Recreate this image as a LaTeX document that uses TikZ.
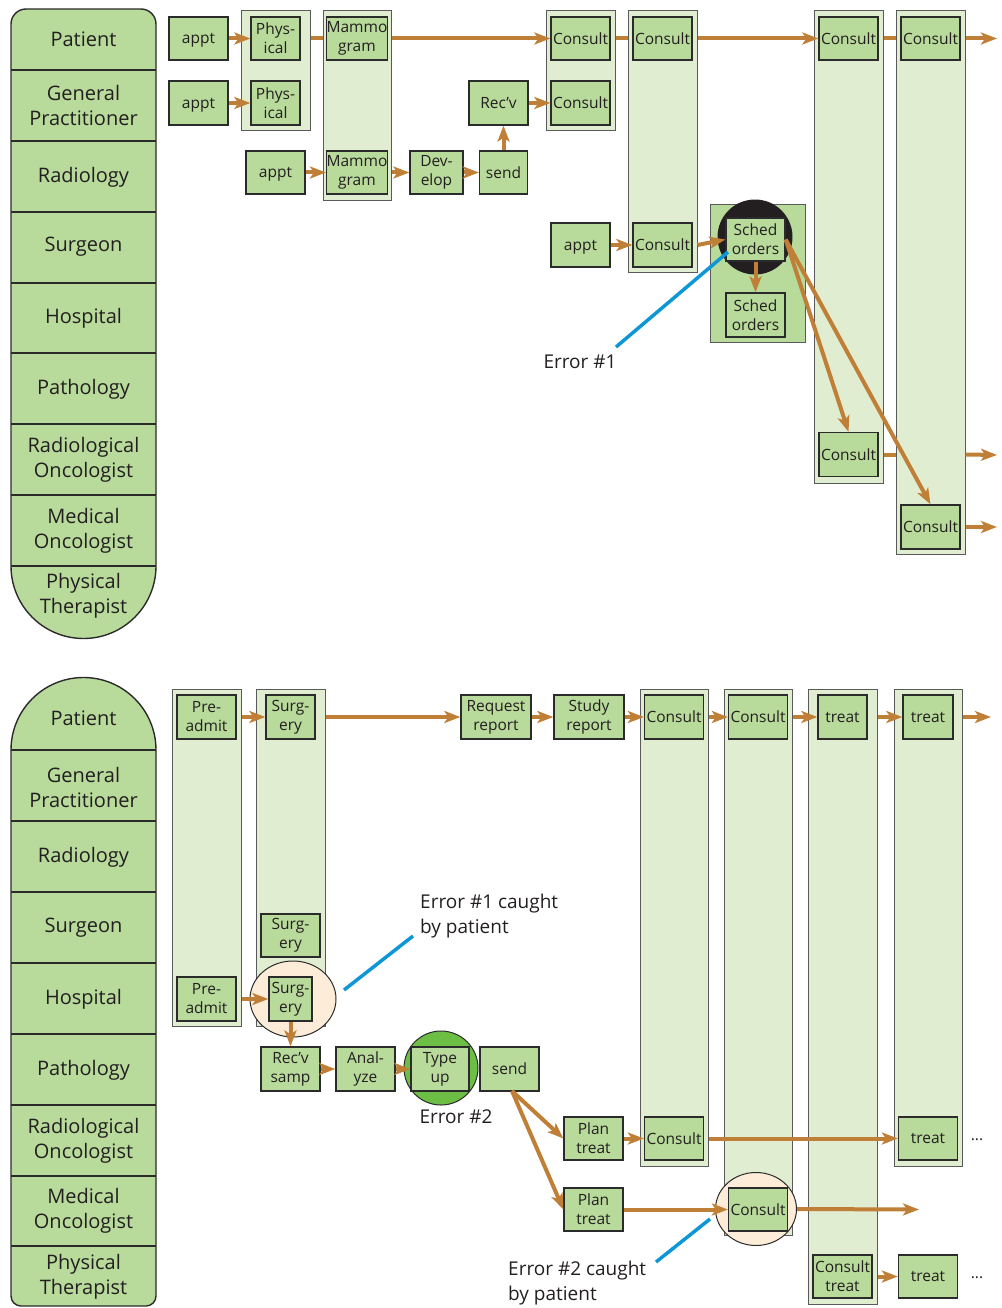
\documentclass[tikz,border=0pt]{standalone}
\usepackage{fontspec}
\setmainfont{Open Sans}
\usetikzlibrary{arrows.meta,shapes.geometric}

\definecolor{boxfill}{HTML}{B8DA9B}
\definecolor{grpfill}{HTML}{E0EDD0}
\definecolor{grpline}{HTML}{5A5A5A}
\definecolor{boxline}{HTML}{2B2B2B}
\definecolor{ink}{HTML}{231F20}
\definecolor{flowc}{HTML}{C07F37}
\definecolor{calloutblue}{HTML}{0E97D6}
\definecolor{cream}{HTML}{FDEDD8}
\definecolor{typegreen}{HTML}{6DBE45}

\newcommand\bxfont{\fontsize{15.5}{19}\selectfont}
\newcommand\lnfont{\fontsize{20}{25}\selectfont}
\newcommand\ntfont{\fontsize{19}{25}\selectfont}

\begin{document}
\begin{tikzpicture}[x=1pt,y=-1pt,
  box/.style={draw=boxline, fill=boxfill, line width=1.3pt, minimum width=59pt,
    minimum height=44pt, inner sep=0pt, align=center, font=\bxfont, text=ink},
  lowtext/.style={text depth=0pt},
  grp/.style={draw=grpline, fill=grpfill, line width=1pt, inner sep=0pt},
  lane/.style={draw=boxline, fill=boxfill, line width=1.4pt},
  laneline/.style={draw=boxline, line width=1.4pt},
  lanetxt/.style={font=\lnfont, align=center, text=ink, inner sep=0pt},
  note/.style={font=\ntfont, align=left, text=ink, inner sep=0pt},
  flow/.style={draw=flowc, line width=4pt, -{Stealth[length=16pt,width=12pt,inset=4pt]}},
  link/.style={draw=flowc, line width=4pt},
  callout/.style={draw=calloutblue, line width=3.5pt},
  ring/.style={draw=boxline, line width=1pt, inner sep=0pt}]

\useasboundingbox (0,0) rectangle (1001,1308);

% ---------- upper chart: swim-lane header column ----------
\draw[lane] (11,566) -- (11,24) arc[start angle=180, end angle=270, radius=15]
  -- (141,9) arc[start angle=270, end angle=360, radius=15]
  -- (156,566) arc[start angle=0, end angle=180, radius=72.5] -- cycle;
\foreach \yy in {70,141,212,283,353,424,495,566}
  \draw[laneline] (11,\yy) -- (156,\yy);
\node[lanetxt] (uPat) at (83.5,39) {Patient};
\node[lanetxt] (uGP) at (83.5,106) {General\\Practitioner};
\node[lanetxt] (uRad) at (83.5,177) {Radiology};
\node[lanetxt] (uSur) at (83.5,247) {Surgeon};
\node[lanetxt] (uHos) at (83.5,318) {Hospital};
\node[lanetxt] (uPath) at (83.5,389) {Pathology};
\node[lanetxt] (uRO) at (83.5,460) {Radiological\\Oncologist};
\node[lanetxt] (uMO) at (83.5,531) {Medical\\Oncologist};
\node[lanetxt] (uPT) at (83.5,596) {Physical\\Therapist};

% ---------- upper chart: visit groups ----------
\node[grp, minimum width=69pt, minimum height=120pt] (gPhys) at (275.5,71) {};
\node[grp, minimum width=68pt, minimum height=189pt] (gMam) at (357,105.5) {};
\node[grp, minimum width=69pt, minimum height=120pt] (gA) at (580.5,71) {};
\node[grp, minimum width=69pt, minimum height=261pt] (gB) at (662.5,141.5) {};
\node[grp, fill=boxfill, minimum width=95pt, minimum height=138pt] (gSched) at (757.5,273) {};
\node[grp, minimum width=69pt, minimum height=472pt] (gC) at (848.5,247) {};
\node[grp, minimum width=69pt, minimum height=543pt] (gD) at (930.5,282.5) {};

\node[circle, fill=ink, minimum size=75pt, inner sep=0pt] (err1circ) at (755,237) {};

% ---------- upper chart: steps ----------
\node[box, lowtext, minimum height=43pt] (appt1) at (198.5,38.5) {appt};
\node[box, lowtext] (appt2) at (198.5,103) {appt};
\node[box, minimum width=49pt, minimum height=43pt] (phys1) at (275.5,38.5) {Phys-\\ical};
\node[box, minimum width=49pt] (phys2) at (275.5,103) {Phys-\\ical};
\node[box, minimum height=43pt] (mam1) at (357,38.5) {Mammo\\gram};
\node[box, minimum height=43pt] (mam2) at (357,172.5) {Mammo\\gram};
\node[box, lowtext, minimum height=43pt] (appt3) at (275.5,172.5) {appt};
\node[box, minimum width=53pt, minimum height=43pt] (dev) at (436.5,172.5) {Dev-\\elop};
\node[box, minimum width=48pt, minimum height=43pt] (send1) at (503.5,172.5) {send};
\node[box] (recv1) at (498.5,103) {Rec'v};
\node[box, minimum height=43pt] (conA1) at (580.5,38.5) {Consult};
\node[box] (conA2) at (580.5,103) {Consult};
\node[box, minimum height=43pt] (conB1) at (662.5,38.5) {Consult};
\node[box] (conB2) at (662.5,245) {Consult};
\node[box, lowtext] (appt4) at (580.5,245) {appt};
\node[box, minimum height=43pt] (sched1) at (755.5,239.5) {Sched\\orders};
\node[box] (sched2) at (755.5,315) {Sched\\orders};
\node[box, minimum height=43pt] (conC1) at (848.5,38.5) {Consult};
\node[box] (conC2) at (848.5,454.5) {Consult};
\node[box, minimum height=43pt] (conD1) at (930.5,38.5) {Consult};
\node[box] (conD2) at (930.5,527) {Consult};

\coordinate (outA) at (997,38.5);
\coordinate (outC) at (997,455);
\coordinate (outD) at (997,527);

% ---------- upper chart: flow ----------
\draw[flow] (appt1.east) -- (phys1.west);
\draw[flow] (appt2.east) -- (phys2.west);
\draw[link] (gPhys.east |- phys1) -- (gMam.west |- mam1);
\draw[flow] (gMam.east |- mam1) -- (conA1.west);
\draw[link] (gA.east |- conA1) -- (gB.west |- conB1);
\draw[flow] (gB.east |- conB1) -- (conC1.west);
\draw[link] (gC.east |- conC1) -- (gD.west |- conD1);
\draw[flow] (gD.east |- conD1) -- (outA);
\draw[flow] (appt3.east) -- (mam2.west);
\draw[flow] (gMam.east |- mam2) -- (dev.west);
\draw[flow] (dev.east) -- (send1.west);
\draw[flow] (send1.north) -- (send1.north |- recv1.south);
\draw[flow] (recv1.east) -- (conA2.west);
\draw[flow] (appt4.east) -- (conB2.west);
\draw[flow] (gB.east |- conB2) -- (sched1.west);
\draw[flow] (sched1.south) -- (sched2.north);
\draw[flow] (sched1.east) -- (conC2.north);
\draw[flow] (sched1.east) -- (conD2.north);
\draw[link] (gC.east |- conC2) -- (gD.west |- conC2);
\draw[flow] (gD.east |- conC2) -- (outC);
\draw[flow] (gD.east |- conD2) -- (outD);

\coordinate (e1a) at (728,252);
\coordinate (e1b) at (616,347);
\draw[callout] (e1a) -- (e1b);
\node[note, anchor=center] (err1) at (580,362) {Error \#1};

% ---------- lower chart: swim-lane header column ----------
\draw[lane] (11,750) arc[start angle=180, end angle=360, radius=72.5]
  -- (156,1296) arc[start angle=0, end angle=90, radius=10]
  -- (21,1306) arc[start angle=90, end angle=180, radius=10] -- cycle;
\foreach \yy in {750,821,892,963,1034,1105,1176,1246}
  \draw[laneline] (11,\yy) -- (156,\yy);
\node[lanetxt] (lPat) at (83.5,718) {Patient};
\node[lanetxt] (lGP) at (83.5,787) {General\\Practitioner};
\node[lanetxt] (lRad) at (83.5,857) {Radiology};
\node[lanetxt] (lSur) at (83.5,928) {Surgeon};
\node[lanetxt] (lHos) at (83.5,999) {Hospital};
\node[lanetxt] (lPath) at (83.5,1070) {Pathology};
\node[lanetxt] (lRO) at (83.5,1141) {Radiological\\Oncologist};
\node[lanetxt] (lMO) at (83.5,1211) {Medical\\Oncologist};
\node[lanetxt] (lPT) at (83.5,1277) {Physical\\Therapist};

% ---------- lower chart: visit groups ----------
\node[grp, minimum width=69pt, minimum height=337pt] (gPre) at (206.5,857.5) {};
\node[grp, minimum width=69pt, minimum height=337pt] (gSurg) at (290.5,857.5) {};
\node[grp, minimum width=68pt, minimum height=477pt] (gE) at (674,927.5) {};
\node[grp, minimum width=68pt, minimum height=546pt] (gF) at (758,962) {};
\node[grp, minimum width=69pt, minimum height=615pt] (gG) at (842.5,996.5) {};
\node[grp, minimum width=68pt, minimum height=477pt] (gH) at (928,927.5) {};

\node[ring, ellipse, fill=cream, minimum width=86pt, minimum height=76pt] (catch1) at (293,999) {};
\node[ring, circle, fill=typegreen, minimum size=74pt] (err2circ) at (441,1068) {};
\node[ring, ellipse, fill=cream, minimum width=81pt, minimum height=73pt] (catch2) at (756,1209) {};

% ---------- lower chart: steps ----------
\node[box] (pre1) at (206.5,717) {Pre-\\admit};
\node[box, minimum width=49pt] (surg1) at (290.5,717) {Surg-\\ery};
\node[box] (pre2) at (206.5,999) {Pre-\\admit};
\node[box, minimum height=43pt] (surg2) at (290.5,935.5) {Surg-\\ery};
\node[box, minimum width=43pt] (surg3) at (290.5,999) {Surg-\\ery};
\node[box] (recv2) at (290.5,1069) {Rec'v\\samp};
\node[box] (anal) at (365.5,1069) {Anal-\\yze};
\node[box, minimum width=58pt] (typeup) at (440,1069) {Type\\up};
\node[box] (send2) at (509.5,1069) {send};
\node[box, minimum width=70pt] (req) at (496,717) {Request\\report};
\node[box, minimum width=70pt] (study) at (589,717) {Study\\report};
\node[box] (conE1) at (674,717) {Consult};
\node[box] (conF1) at (758,717) {Consult};
\node[box, minimum width=49pt] (treatG1) at (842.5,717) {treat};
\node[box, minimum width=50pt] (treatH1) at (928,717) {treat};
\node[box, minimum height=43pt] (plan1) at (593.5,1138.5) {Plan\\treat};
\node[box, minimum height=43pt] (plan2) at (593.5,1209.5) {Plan\\treat};
\node[box, minimum height=43pt] (conE2) at (674,1138.5) {Consult};
\node[box, minimum height=43pt] (conF2) at (758,1209.5) {Consult};
\node[box, minimum height=43pt] (ctG2) at (842.5,1276.5) {Consult\\treat};
\node[box, minimum height=43pt] (treatH2) at (928,1138.5) {treat};
\node[box, minimum height=43pt] (treatX) at (928,1276.5) {treat};
\node[font=\bxfont, text=ink, inner sep=0pt] (dotsA) at (977,1140) {...};
\node[font=\bxfont, text=ink, inner sep=0pt] (dotsB) at (977,1278) {...};

\coordinate (outE) at (991,717);
\coordinate (outF) at (919,1209.5);
\coordinate (fork) at (512,1091);

% ---------- lower chart: flow ----------
\draw[flow] (gPre.east |- pre1) -- (surg1.west);
\draw[flow] (gSurg.east |- surg1) -- (req.west);
\draw[flow] (req.east) -- (study.west);
\draw[flow] (study.east) -- (conE1.west);
\draw[flow] (gE.east |- conE1) -- (conF1.west);
\draw[flow] (gF.east |- conF1) -- (treatG1.west);
\draw[flow] (gG.east |- treatG1) -- (treatH1.west);
\draw[flow] (gH.east |- treatH1) -- (outE);
\draw[flow] (gPre.east |- pre2) -- (surg3.west);
\draw[flow] (surg3.south) -- (recv2.north);
\draw[flow] (recv2.east) -- (anal.west);
\draw[flow] (anal.east) -- (typeup.west);
\draw[flow] (fork) -- (plan1.west);
\draw[flow] (fork) -- (plan2.west);
\draw[flow] (plan1.east) -- (conE2.west);
\draw[flow] (gE.east |- conE2) -- (treatH2.west);
\draw[flow] (plan2.east) -- (conF2.west);
\draw[flow] (catch2.east) -- (outF);
\draw[flow] (gG.east |- ctG2) -- (treatX.west);

% ---------- lower chart: error notes ----------
\coordinate (c1a) at (344,990);
\coordinate (c1b) at (413,936);
\draw[callout] (c1a) -- (c1b);
\node[note, anchor=west] (err1c) at (420,916.5) {Error \#1 caught\\by patient};
\node[note] (err2) at (456,1117) {Error \#2};
\coordinate (c2a) at (710,1219);
\coordinate (c2b) at (656,1262);
\draw[callout] (c2a) -- (c2b);
\node[note, anchor=west] (err2c) at (508,1283.5) {Error \#2 caught\\by patient};
\end{tikzpicture}
\end{document}
